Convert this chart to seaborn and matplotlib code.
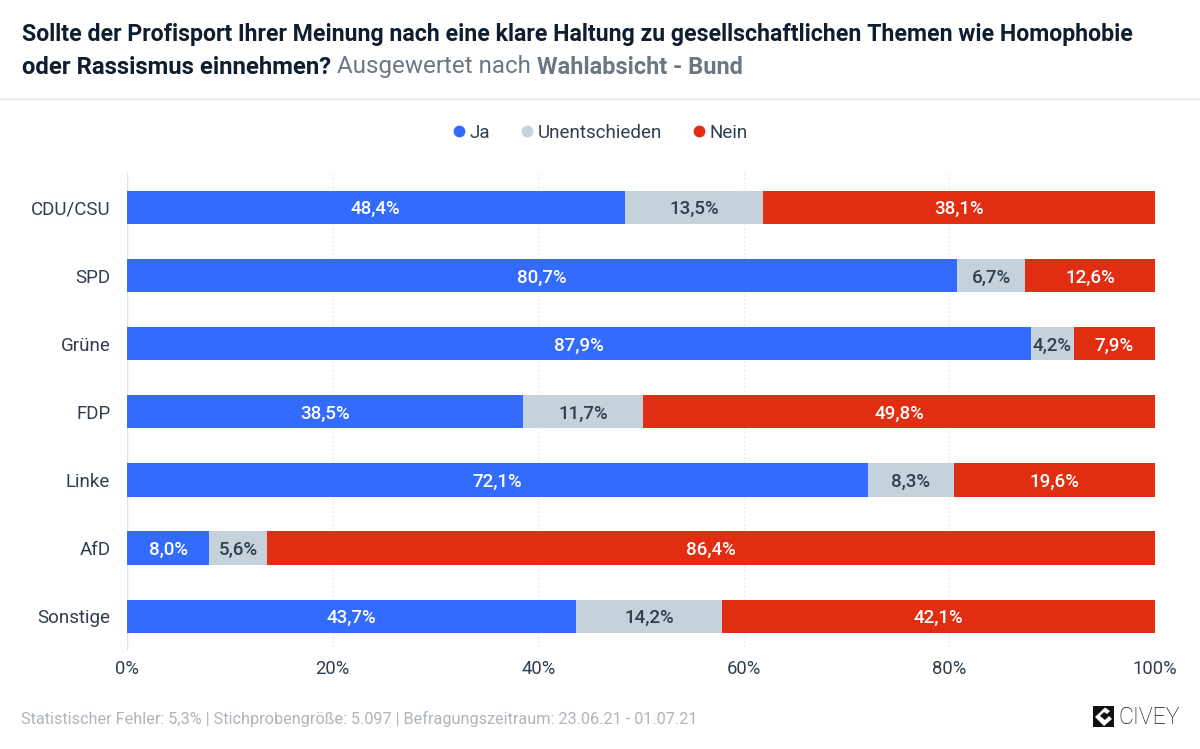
import matplotlib
matplotlib.use("Agg")
import matplotlib.pyplot as plt
import seaborn as sns
import pandas as pd
from matplotlib.patches import Rectangle, Polygon

parties = ["CDU/CSU", "SPD", "Grüne", "FDP", "Linke", "AfD", "Sonstige"]
ja = [48.4, 80.7, 87.9, 38.5, 72.1, 8.0, 43.7]
unentschieden = [13.5, 6.7, 4.2, 11.7, 8.3, 5.6, 14.2]
nein = [38.1, 12.6, 7.9, 49.8, 19.6, 86.4, 42.1]
series_names = ["Ja", "Unentschieden", "Nein"]
colors = ["#336BFF", "#C5D2DC", "#E12D12"]
label_colors = ["white", "#2F3F4F", "white"]
xticks = [0, 20, 40, 60, 80, 100]

sns.set_theme(style="white")
plt.rcParams["font.family"] = ["Roboto", "DejaVu Sans"]

W, H = 1200, 749
fig = plt.figure(figsize=(W / 100, H / 100), dpi=100, facecolor="white")
ax = fig.add_axes([127 / W, 1 - 650.3 / H, (1155 - 127) / W, (650 - 173) / H])

df = pd.DataFrame({"Partei": parties, "Ja": ja, "Unentschieden": unentschieden, "Nein": nein})
left = [0.0] * len(parties)
for name, col, lc in zip(series_names, colors, label_colors):
    d = df.assign(left=left)
    sns.barplot(data=d, y="Partei", x=name, left=d["left"], color=col, width=0.49,
                orient="h", ax=ax, saturation=1, zorder=3, linewidth=0)
    for i, v in enumerate(df[name]):
        ax.text(left[i] + v / 2, i, f"{v:.1f}%".replace(".", ","), ha="center", va="center_baseline",
                color=lc, fontsize=13.5, fontweight="medium", zorder=4)
        left[i] += v

ax.set_xlim(0, 100)
ax.set_ylim(6.5, -0.5)
ax.set_xlabel("")
ax.set_ylabel("")
ax.set_xticks(xticks)
ax.set_xticklabels([f"{t}%" for t in xticks], fontsize=13.3, color="#2F3F4F")
ax.tick_params(axis="y", length=0, pad=12, labelsize=13.5, labelcolor="#2F3F4F")
ax.tick_params(axis="x", length=0, pad=7)
for s in ax.spines.values():
    s.set_visible(False)
ax.xaxis.grid(True, color="#E3E6E9", linewidth=1, linestyle=(0, (1, 2)), zorder=0)
ax.yaxis.grid(False)
ax.set_axisbelow(True)
ax.axvline(0, color="#E0E3E6", lw=1, zorder=1)

def fx(x):
    return x / W
def fy(y):
    return 1 - y / H

fig.text(fx(22), fy(34), "Sollte der Profisport Ihrer Meinung nach eine klare Haltung zu gesellschaftlichen Themen wie Homophobie",
         fontsize=16.67, fontweight="bold", color="#0F1E2E", va="center", ha="left")
fig.text(fx(22), fy(67), "oder Rassismus einnehmen?", fontsize=17.17, fontweight="bold", color="#0F1E2E", va="center", ha="left")
fig.text(fx(337), fy(67), "Ausgewertet nach ", fontsize=17.4, color="#6C7782", va="center", ha="left")
fig.text(fx(537), fy(67), "Wahlabsicht - Bund", fontsize=16.9, fontweight="bold", color="#6C7782", va="center", ha="left")
fig.add_artist(plt.Line2D([0, 1], [fy(99)] * 2, color="#E4E6E8", lw=1))

for x, tx, name, col in zip([459, 527, 699], [469, 538, 709.5], series_names, colors):
    fig.add_artist(plt.Line2D([fx(x)], [fy(131)], marker="o", ms=8.5, mec="none", mfc=col, ls=""))
    fig.text(fx(tx), fy(131), name, fontsize=13.5, color="#2F3F4F", va="center_baseline", ha="left")

fig.text(fx(21), fy(717), "Statistischer Fehler: 5,3% | Stichprobengröße: 5.097 | Befragungszeitraum: 23.06.21 - 01.07.21",
         fontsize=11.7, color="#AEB4BA", va="center_baseline", ha="left")

fig.add_artist(Rectangle((fx(1093), fy(727)), 21 / W, 21 / H, transform=fig.transFigure, fc="#111111", ec="none"))
fig.add_artist(Polygon([(fx(1095), fy(717)), (fx(1105), fy(707.5)), (fx(1110), fy(711)), (fx(1107), fy(714)), (fx(1104), fy(712)),
                        (fx(1100), fy(716)), (fx(1105), fy(720)), (fx(1109), fy(716)), (fx(1112), fy(719)), (fx(1104), fy(726))],
                       closed=True, transform=fig.transFigure, fc="white", ec="none"))
fig.text(fx(1118), fy(717.5), "CIVEY", fontsize=16.6, color="#111111", va="center", ha="left", fontweight="light")

fig.savefig("out.png", dpi=100, facecolor="white")
